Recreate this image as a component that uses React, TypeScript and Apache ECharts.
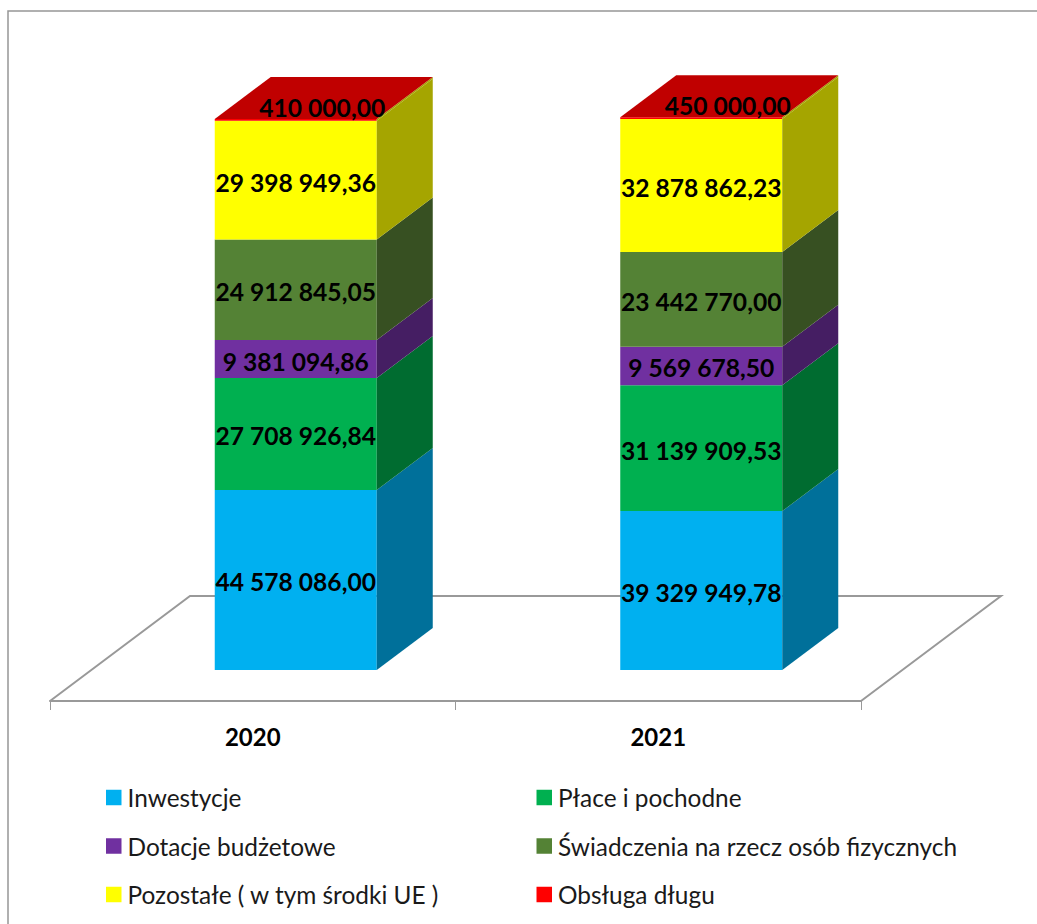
import React, { useEffect, useRef } from "react";
import * as echarts from "echarts";

const years = ["2020", "2021"];
const seriesNames = [
  "Inwestycje",
  "Płace i pochodne",
  "Dotacje budżetowe",
  "Świadczenia na rzecz osób fizycznych",
  "Pozostałe ( w tym środki UE )",
  "Obsługa długu",
];
const inwestycje = [44578086.0, 39329949.78];
const place = [27708926.84, 31139909.53];
const dotacje = [9381094.86, 9569678.5];
const swiadczenia = [24912845.05, 23442770.0];
const pozostale = [29398949.36, 32878862.23];
const obsluga = [410000.0, 450000.0];
const seriesValues = [inwestycje, place, dotacje, swiadczenia, pozostale, obsluga];
const frontColors = ["#00B0F0", "#00B050", "#7030A0", "#548235", "#FFFF00", "#FF0000"];
const sideColors = ["#00709A", "#006C30", "#451E63", "#375022", "#A5A500", "#A5A500"];
const topColor = "#C00000";
const leftLegend = [seriesNames[0], seriesNames[2], seriesNames[4]];
const rightLegend = [seriesNames[1], seriesNames[3], seriesNames[5]];

const GRID_LEFT = 50;
const GRID_WIDTH = 811;
const AXIS_Y = 701;
const BASE_Y = 670;
const Y_MAX = 150000000;
const PX_PER_UNIT = 4.04 / 1000000;
const Y_MIN = -(AXIS_Y - BASE_Y) / PX_PER_UNIT;
const BAR_SHIFT = 43;
const BAR_HALF = 81;
const DEPTH_X = 56;
const DEPTH_Y = 42;
const LABEL_FONT = "bold 24.6px Lato";
const LEGEND_FONT_SIZE = 24.4;

function fmt(v: number): string {
  const [i, d] = v.toFixed(2).split(".");
  return i.replace(/\B(?=(\d{3})+(?!\d))/g, " ") + "," + d;
}

function makeSeries(idx: number) {
  const data = years.map((y, c) => {
    let start = 0;
    for (let k = 0; k < idx; k++) start += seriesValues[k][c];
    return [c, start, start + seriesValues[idx][c], seriesValues[idx][c]];
  });
  const isTop = idx === seriesValues.length - 1;
  return {
    type: "custom",
    name: seriesNames[idx],
    data,
    clip: false,
    silent: true,
    encode: { x: 0, y: [1, 2] },
    itemStyle: { color: frontColors[idx] },
    renderItem: (_p: any, api: any) => {
      const c = api.value(0);
      const a = api.coord([c, api.value(1)]);
      const b = api.coord([c, api.value(2)]);
      const xl = a[0] + BAR_SHIFT - BAR_HALF;
      const xr = a[0] + BAR_SHIFT + BAR_HALF;
      const yb = a[1];
      const yt = b[1];
      const children: any[] = [
        {
          type: "polygon",
          shape: { points: [[xl, yb], [xr, yb], [xr, yt], [xl, yt]] },
          style: { fill: frontColors[idx] },
        },
        {
          type: "polygon",
          shape: {
            points: [
              [xr, yb],
              [xr + DEPTH_X, yb - DEPTH_Y],
              [xr + DEPTH_X, yt - DEPTH_Y],
              [xr, yt],
            ],
          },
          style: { fill: sideColors[idx] },
        },
      ];
      if (isTop) {
        children.push({
          type: "polygon",
          shape: {
            points: [
              [xl, yt],
              [xr, yt],
              [xr + DEPTH_X, yt - DEPTH_Y],
              [xl + DEPTH_X, yt - DEPTH_Y],
            ],
          },
          style: { fill: topColor },
        });
      }
      children.push({
        type: "text",
        z2: 10,
        style: {
          text: fmt(api.value(3)),
          x: isTop ? (xl + xr) / 2 + 26.5 : (xl + xr) / 2,
          y: isTop ? yt - 11.5 : (yb + yt) / 2 + 2,
          fill: "#000",
          font: LABEL_FONT,
          align: "center",
          verticalAlign: "middle",
        },
      });
      return { type: "group", children };
    },
  };
}

const legendBase = {
  orient: "vertical",
  top: 783.5,
  padding: 0,
  itemWidth: 15.5,
  itemHeight: 15.5,
  itemGap: 20.5,
  icon: "rect",
  selectedMode: false,
  textStyle: {
    fontFamily: "Lato",
    fontSize: LEGEND_FONT_SIZE,
    color: "#1a1a1a",
    lineHeight: 28,
    padding: [0, 0, 0, 1],
  },
};

export default function App() {
  const ref = useRef<HTMLDivElement>(null);
  useEffect(() => {
    const chart = echarts.init(ref.current!, undefined, { renderer: "svg" });
    chart.setOption({
      animation: false,
      backgroundColor: "#fff",
      grid: {
        left: GRID_LEFT,
        width: GRID_WIDTH,
        top: BASE_Y - Y_MAX * PX_PER_UNIT,
        height: AXIS_Y - (BASE_Y - Y_MAX * PX_PER_UNIT),
      },
      xAxis: {
        type: "category",
        data: years,
        axisLine: { show: true, onZero: false, lineStyle: { color: "#999999", width: 2 } },
        axisTick: { show: true, length: 9, alignWithLabel: false, lineStyle: { color: "#999999", width: 1 } },
        axisLabel: {
          margin: 23,
          fontFamily: "Lato",
          fontWeight: "bold",
          fontSize: 24,
          color: "#000",
        },
      },
      yAxis: { type: "value", min: Y_MIN, max: Y_MAX, show: false },
      legend: [
        { ...legendBase, left: 106, data: leftLegend },
        { ...legendBase, left: 536.5, data: rightLegend },
      ],
      graphic: [
        {
          type: "rect",
          silent: true,
          shape: { x: 8, y: 11, width: 1100, height: 1000 },
          style: { fill: "none", stroke: "#969696", lineWidth: 1.5 },
        },
        {
          type: "polyline",
          silent: true,
          shape: { points: [[50, 701], [190, 596], [1001, 596], [861, 701]] },
          style: { fill: "none", stroke: "#999999", lineWidth: 2 },
        },
      ],
      series: seriesValues.map((_, i) => makeSeries(i)),
    });
    return () => chart.dispose();
  }, []);
  return (
    <div
      ref={ref}
      style={{ position: "absolute", left: 0, top: 0, width: 1037, height: 924 }}
    />
  );
}
